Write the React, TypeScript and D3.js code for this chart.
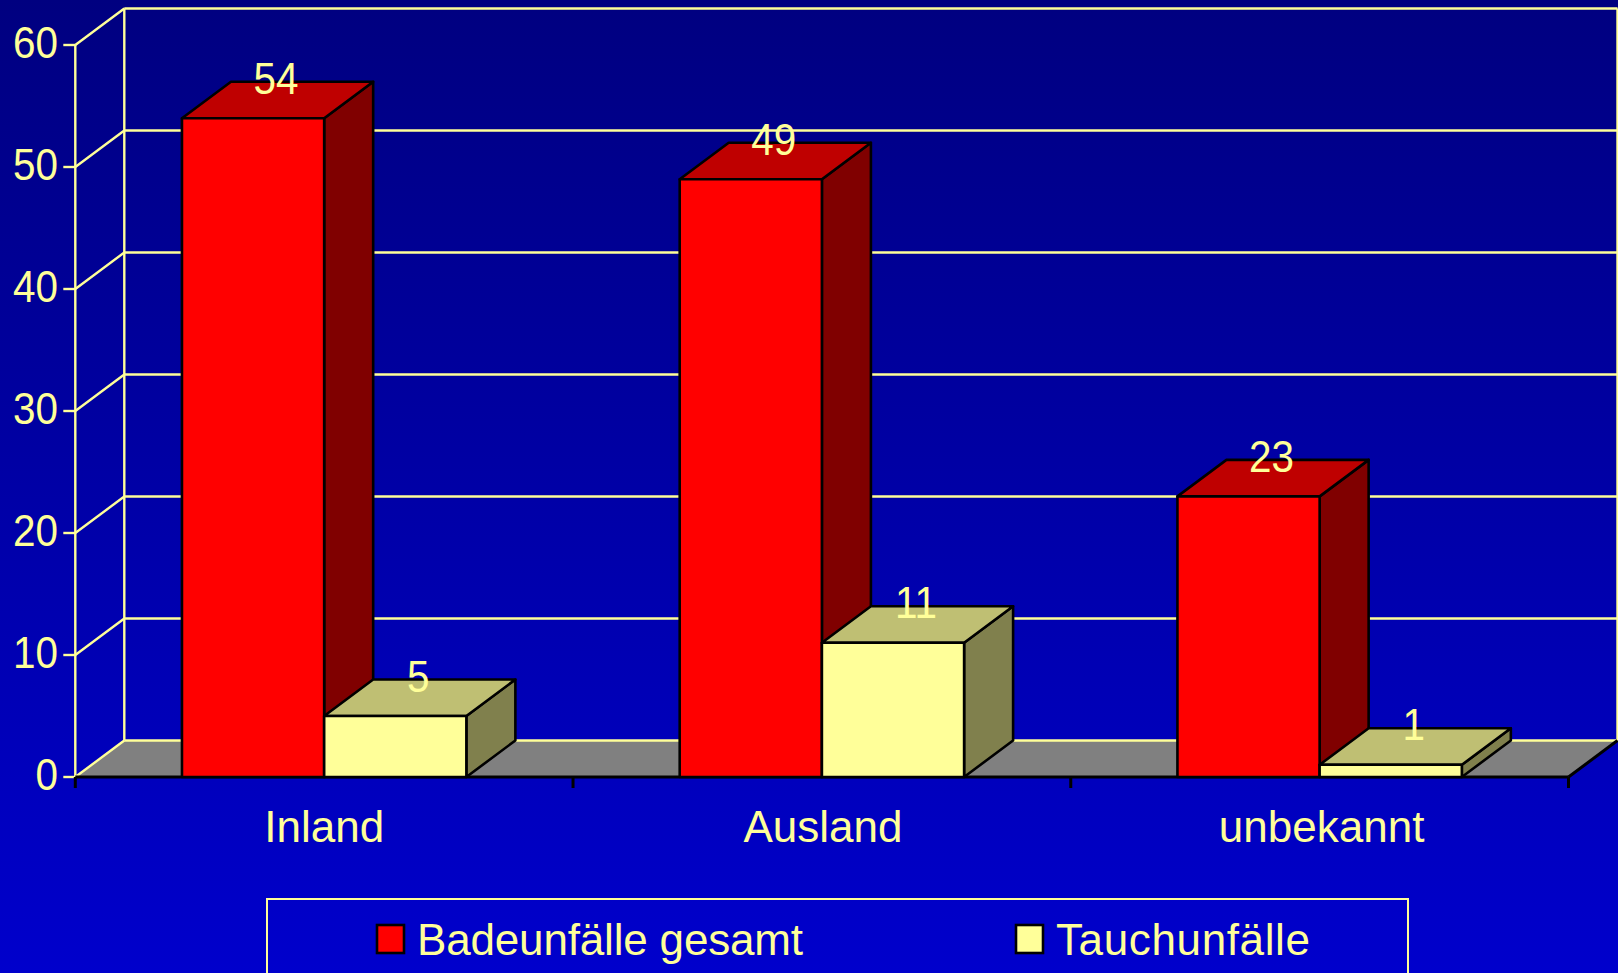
import * as d3 from "d3";

const categories = ["Inland", "Ausland", "unbekannt"];
const seriesNames = ["Badeunfälle gesamt", "Tauchunfälle"];
const badeunfaelle = [54, 49, 23];
const tauchunfaelle = [5, 11, 1];
const yTicks = [0, 10, 20, 30, 40, 50, 60];

const width = 1618;
const height = 973;
const cream = "#FFFF99";
const font = "'Liberation Sans', Arial, sans-serif";

// 3D offset of the chart box
const depthX = 49;
const depthY = 36.5;
// digits in the original are a bit condensed
const digitSquash = 0.92;

const x0 = d3
  .scaleBand<string>()
  .domain(categories)
  .range([75.3, 1568.5])
  .paddingInner(0.4286)
  .paddingOuter(0.2143);

const x1 = d3
  .scaleBand<string>()
  .domain(seriesNames)
  .range([0, x0.bandwidth()]);

const y = d3.scaleLinear().domain([0, 60]).range([777, 45]);

const line = d3.line<[number, number]>();
const poly = (pts: [number, number][]) => line(pts) + "Z";

const seriesStyles = [
  { values: badeunfaelle, front: "#FF0000", top: "#BF0000", side: "#800000" },
  { values: tauchunfaelle, front: "#FFFF99", top: "#BFBF73", side: "#80804D" },
];

const Bar = ({ left, w, value, front, top, side }: any) => {
  const yT = y(value);
  const yB = y(0);
  const right = left + w;
  return (
    <g stroke="#000" strokeWidth={2.6} strokeLinejoin="round">
      <path
        d={poly([
          [right, yB],
          [right + depthX, yB - depthY],
          [right + depthX, yT - depthY],
          [right, yT],
        ])}
        fill={side}
      />
      <path
        d={poly([
          [left, yT],
          [left + depthX, yT - depthY],
          [right + depthX, yT - depthY],
          [right, yT],
        ])}
        fill={top}
      />
      <rect x={left} y={yT} width={w} height={yB - yT} fill={front} />
    </g>
  );
};

export default function App() {
  const xLeft = x0.range()[0];
  const xRight = x0.range()[1];
  const yBase = y(0);
  const tickEdges = [xLeft, ...categories.map((_, i) => xLeft + x0.step() * (i + 1))];

  return (
    <svg
      width={width}
      height={height}
      style={{ position: "absolute", left: 0, top: 0 }}
      fontFamily={font}
    >
      <defs>
        <linearGradient id="bg" x1="0" y1="0" x2="0" y2="1">
          <stop offset="0" stopColor="#000080" />
          <stop offset="1" stopColor="#0000CC" />
        </linearGradient>
      </defs>
      <rect width={width} height={height} fill="url(#bg)" />

      {/* floor */}
      <path
        d={poly([
          [xLeft, yBase],
          [xLeft + depthX, yBase - depthY],
          [xRight + depthX, yBase - depthY],
          [xRight, yBase],
        ])}
        fill="#808080"
      />

      {/* back wall + grid */}
      <g stroke={cream} strokeWidth={2.4} fill="none">
        {yTicks.map((t) => (
          <g key={t}>
            <line x1={xLeft} y1={y(t)} x2={xLeft + depthX} y2={y(t) - depthY} />
            <line
              x1={xLeft + depthX}
              y1={y(t) - depthY}
              x2={xRight + depthX}
              y2={y(t) - depthY}
            />
            <line x1={xLeft - 12} y1={y(t)} x2={xLeft} y2={y(t)} />
          </g>
        ))}
        <line x1={xLeft} y1={y(0)} x2={xLeft} y2={y(60)} />
        <line
          x1={xLeft + depthX}
          y1={y(0) - depthY}
          x2={xLeft + depthX}
          y2={y(60) - depthY}
        />
        <line
          x1={xRight + depthX}
          y1={y(0) - depthY}
          x2={xRight + depthX}
          y2={y(60) - depthY}
        />
      </g>

      {/* floor edges */}
      <g stroke="#000" strokeWidth={3}>
        <line x1={xLeft} y1={yBase} x2={xRight} y2={yBase} />
        <line x1={xRight} y1={yBase} x2={xRight + depthX} y2={yBase - depthY} />
        {tickEdges.map((t) => (
          <line key={t} x1={t} y1={yBase} x2={t} y2={yBase + 11} />
        ))}
      </g>

      {/* bars */}
      {categories.map((c) => (
        <g key={c}>
          {seriesStyles.map((s, i) => (
            <Bar
              key={i}
              left={(x0(c) as number) + (x1(seriesNames[i]) as number)}
              w={x1.bandwidth()}
              value={s.values[categories.indexOf(c)]}
              front={s.front}
              top={s.top}
              side={s.side}
            />
          ))}
        </g>
      ))}

      {/* y axis labels */}
      <g fill={cream} fontSize={44} textAnchor="end">
        {yTicks.map((t) => (
          <text
            key={t}
            transform={`translate(58,${y(t) + 13}) scale(${digitSquash},1)`}
          >
            {t}
          </text>
        ))}
      </g>

      {/* value labels */}
      <g fill={cream} fontSize={44} textAnchor="middle">
        {categories.map((c, ci) =>
          seriesStyles.map((s, i) => {
            const cx =
              (x0(c) as number) +
              (x1(seriesNames[i]) as number) +
              x1.bandwidth() / 2 +
              depthX / 2;
            return (
              <text
                key={c + i}
                transform={`translate(${cx - 1.5},${y(s.values[ci]) - 24.5}) scale(${digitSquash},1)`}
              >
                {s.values[ci]}
              </text>
            );
          })
        )}
      </g>

      {/* category labels */}
      <g fill={cream} fontSize={44} textAnchor="middle">
        {categories.map((c, i) => (
          <text
            key={c}
            x={(x0(c) as number) + x0.bandwidth() / 2 + i}
            y={842}
          >
            {c}
          </text>
        ))}
      </g>

      {/* legend */}
      <rect
        x={267}
        y={899}
        width={1141}
        height={90}
        fill="none"
        stroke={cream}
        strokeWidth={2}
      />
      <g fontSize={44} fill={cream}>
        <rect x={377} y={925} width={27} height={28} fill="#FF0000" stroke="#000" strokeWidth={2.6} />
        <text x={417} y={955} textLength={386} lengthAdjust="spacing">
          {seriesNames[0]}
        </text>
        <rect x={1016} y={925} width={27} height={28} fill="#FFFF99" stroke="#000" strokeWidth={2.6} />
        <text x={1056} y={955} textLength={254} lengthAdjust="spacing">
          {seriesNames[1]}
        </text>
      </g>
    </svg>
  );
}
